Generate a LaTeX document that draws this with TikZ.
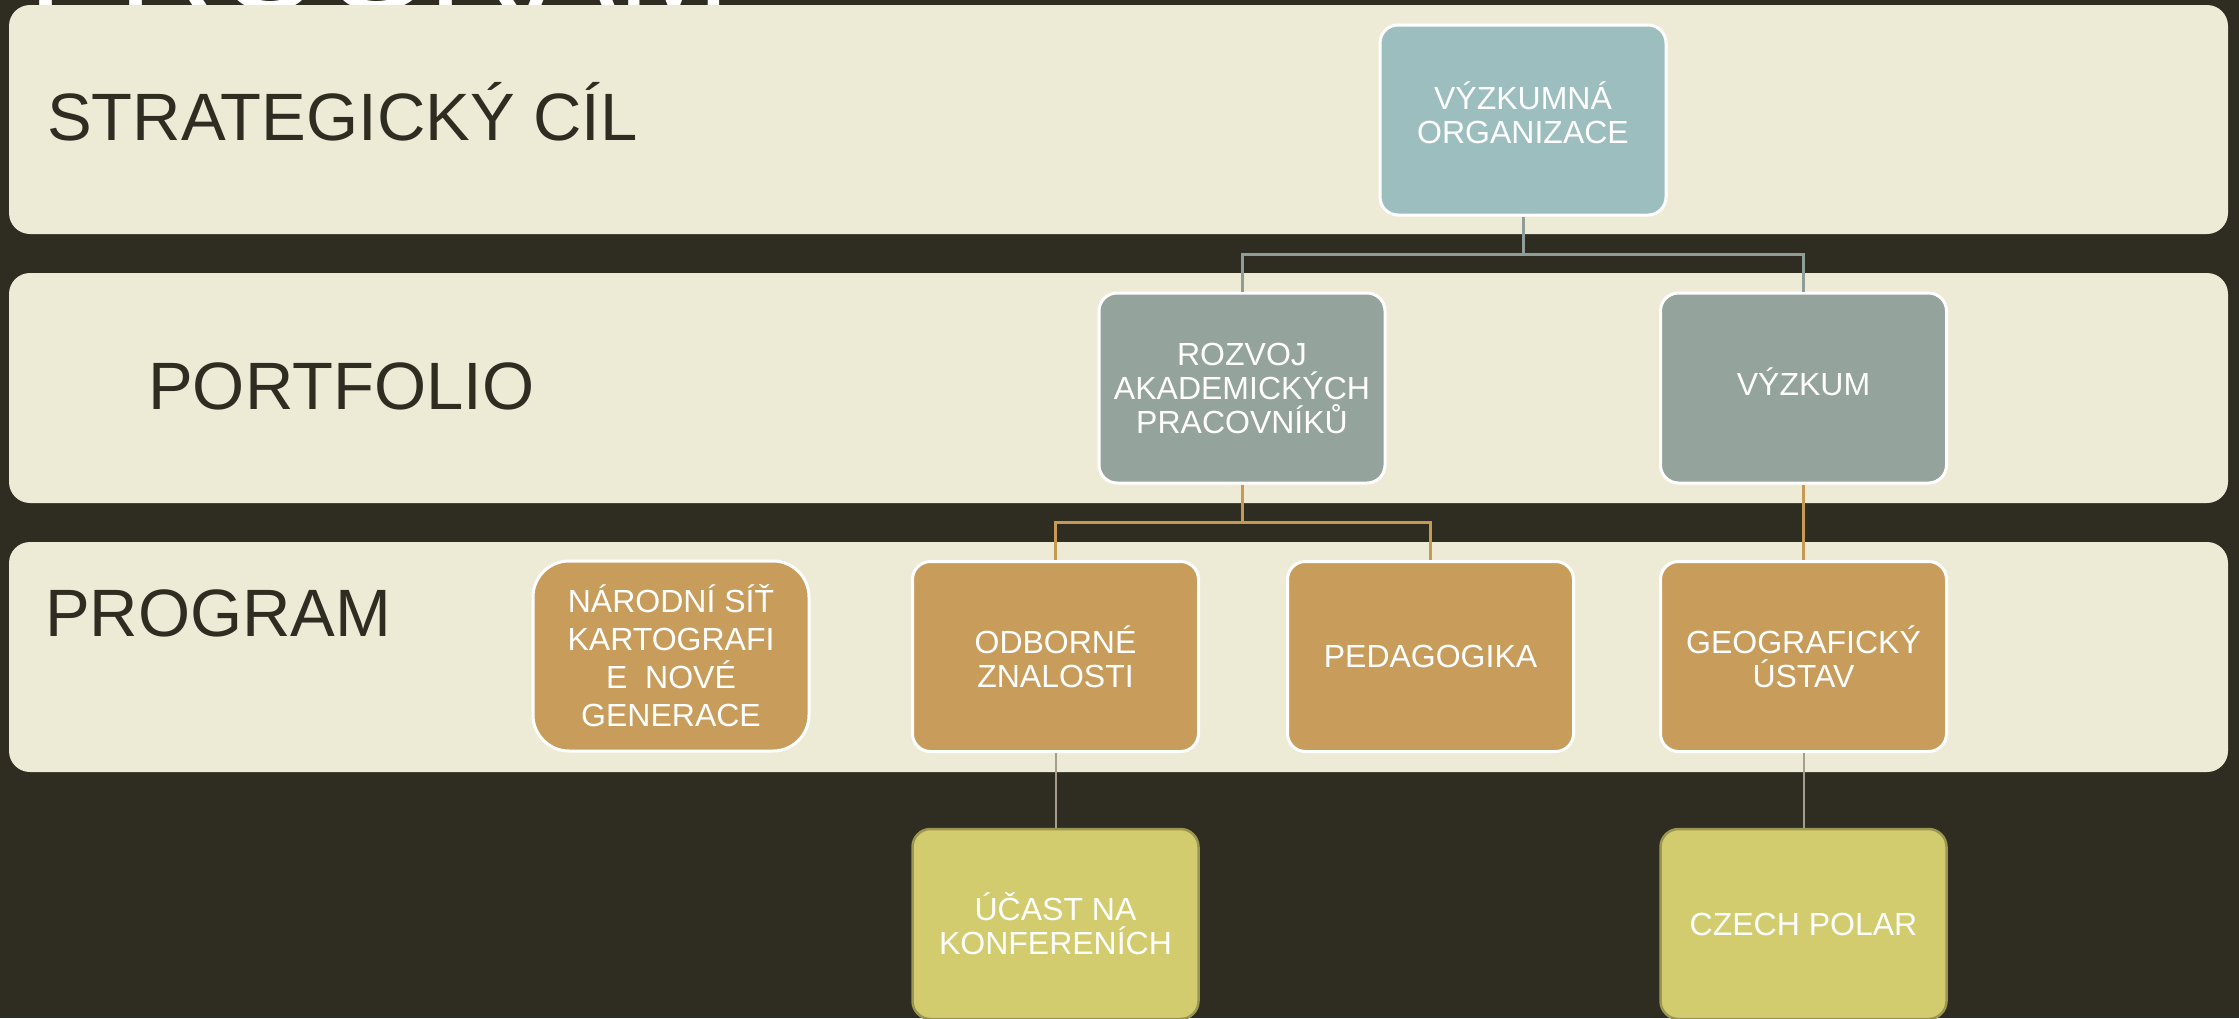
\documentclass[tikz,border=0pt]{standalone}
\usepackage{fontspec}
\setmainfont{Liberation Sans}
\definecolor{bgdark}{RGB}{47,44,34}
\definecolor{band}{RGB}{237,235,214}
\definecolor{vofill}{RGB}{157,190,190}
\definecolor{lvtwo}{RGB}{148,163,155}
\definecolor{lvthree}{RGB}{200,157,92}
\definecolor{lvfour}{RGB}{210,204,111}
\definecolor{lvfourbd}{RGB}{155,150,81}
\definecolor{connA}{RGB}{143,157,152}
\definecolor{connB}{RGB}{196,154,85}
\definecolor{connC}{RGB}{165,157,140}
\tikzset{
  bandbox/.style={fill=band, rounded corners=21pt},
  lbl/.style={anchor=base west, inner sep=0pt, text=bgdark, font=\fontsize{67}{70}\selectfont},
  box/.style={rectangle, rounded corners=18pt, minimum width=286pt, minimum height=190pt,
    draw=white, line width=3pt, text=white, align=center, inner xsep=2pt, inner ysep=2pt,
    font=\fontsize{32}{34}\selectfont},
  boxa/.style={box, fill=vofill},
  boxb/.style={box, fill=lvtwo},
  boxc/.style={box, fill=lvthree},
  boxd/.style={box, fill=lvfour, draw=lvfourbd, line width=2.5pt},
  conna/.style={draw=connA, line width=3pt},
  connb/.style={draw=connB, line width=3pt},
  connc/.style={draw=connC, line width=2pt},
}
\begin{document}
\begin{tikzpicture}[x=1pt,y=-1pt]
\useasboundingbox (0,0) rectangle (2239,1018);
\clip (0,0) rectangle (2239,1018);
\fill[bgdark] (0,0) rectangle (2239,1018);
% title, mostly hidden behind first band
\node[anchor=base west, inner sep=0pt, text=white, font=\fontsize{136}{140}\selectfont] (title) at (28,10) {PROGRAM};
% bands
\path[bandbox] (9,5) rectangle (2228,234);
\path[bandbox] (9,273) rectangle (2228,503);
\path[bandbox] (9,542) rectangle (2228,772);
% labels
\node[lbl] (lcil) at (47,140) {STRATEGICKÝ CÍL};
\node[lbl] (lport) at (148,409) {PORTFOLIO};
\node[lbl] (lprog) at (45,636) {PROGRAM};
% nodes
\node[boxa, text depth=15pt] (vo) at (1523,120) {VÝZKUMNÁ\\ORGANIZACE};
\node[boxb] (rozvoj) at (1242,388) {ROZVOJ\\AKADEMICKÝCH\\PRACOVNÍKŮ};
\node[boxb, text depth=12pt] (vyzkum) at (1803.5,388) {VÝZKUM};
\node[boxc, minimum width=276pt, rounded corners=36pt, font=\fontsize{32}{38}\selectfont] (narodni) at (671,656) {NÁRODNÍ SÍŤ\\KARTOGRAFI\\E~~NOVÉ\\GENERACE};
\node[boxc] (odborne) at (1055.5,656.5) {ODBORNÉ\\ZNALOSTI};
\node[boxc] (pedag) at (1430.5,656.5) {PEDAGOGIKA};
\node[boxc] (geo) at (1803.5,656.5) {GEOGRAFICKÝ\\ÚSTAV};
\node[boxd] (ucast) at (1055.5,924) {ÚČAST NA\\KONFERENÍCH};
\node[boxd] (czech) at (1803.5,924) {CZECH POLAR};
% connectors
\coordinate (ja) at (1523,254);
\coordinate (jb) at (1242,522);
\path[conna] (vo.south) -- (ja);
\path[conna] (rozvoj.north) |- (ja) -| (vyzkum.north);
\path[connb] (rozvoj.south) -- (jb);
\path[connb] (odborne.north) |- (jb) -| (pedag.north);
\path[connb] (vyzkum.south) -- (geo.north);
\path[connc] (odborne.south) -- (ucast.north);
\path[connc] (geo.south) -- (czech.north);
\end{tikzpicture}
\end{document}
